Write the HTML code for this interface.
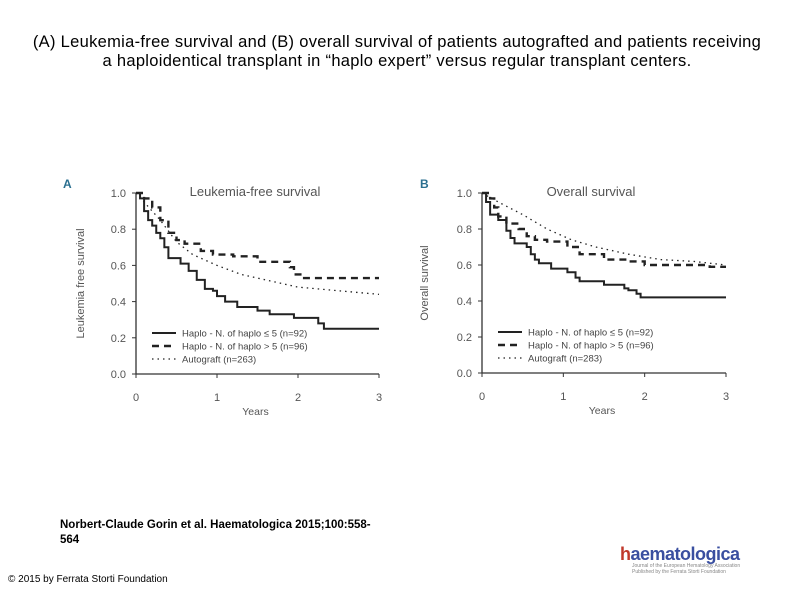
<!DOCTYPE html>
<html><head><meta charset="utf-8"><style>
body{margin:0;width:794px;height:595px;background:#fff;font-family:"Liberation Sans",sans-serif;overflow:hidden;position:relative}
.t{position:absolute;white-space:nowrap}
</style></head><body>
<div class="t" style="left:0;width:794px;top:33px;text-align:center;font-size:16.5px;letter-spacing:0.3px;line-height:19px;color:#000">(A) Leukemia-free survival and (B) overall survival of patients autografted and patients receiving<br>a haploidentical transplant in “haplo expert” versus regular transplant centers.</div>
<svg id="chart" width="794" height="595" style="position:absolute;left:0;top:0"></svg>
<div class="t" style="left:60px;top:518px;font-size:11.5px;font-weight:bold;line-height:15px">Norbert-Claude Gorin et al. Haematologica 2015;100:558-<br>564</div>
<div class="t" style="left:8px;top:574px;font-size:10px">© 2015 by Ferrata Storti Foundation</div>
<div class="t" style="left:620px;top:544px;font-size:18px;font-weight:bold;color:#3a4fa0;letter-spacing:-0.5px"><span style="color:#c0392b">h</span>aematologica</div>
<div class="t" style="left:632px;top:563px;font-size:5px;color:#888;line-height:6px">Journal of the European Hematology Association<br>Published by the Ferrata Storti Foundation</div>
<script>
const ticksY=[0,0.2,0.4,0.6,0.8,1.0];
const ticksX=[0,1,2,3];
const legendLabels=["Haplo - N. of haplo ≤ 5 (n=92)","Haplo - N. of haplo > 5 (n=96)","Autograft (n=263)"];
const legendLabelsB=["Haplo - N. of haplo ≤ 5 (n=92)","Haplo - N. of haplo > 5 (n=96)","Autograft (n=283)"];
const aSolidT=[0,.05,.1,.15,.2,.25,.3,.35,.4,.55,.65,.75,.85,.95,1.0,1.1,1.25,1.5,1.65,1.95,2.25,2.32,3];
const aSolidS=[1,.97,.9,.85,.82,.78,.75,.7,.64,.61,.57,.52,.47,.46,.43,.4,.37,.35,.33,.31,.28,.25,.25];
const aDashT=[0,.1,.2,.3,.4,.5,.6,.8,.95,1.2,1.5,1.9,1.95,2.05,3];
const aDashS=[1,.97,.92,.85,.78,.74,.72,.68,.66,.65,.62,.59,.55,.53,.53];
const aDotT=[0,.1,.3,.5,.7,1.0,1.3,1.6,2,2.5,3];
const aDotS=[1,.95,.85,.73,.66,.6,.55,.52,.48,.46,.44];
const bSolidT=[0,.05,.1,.2,.3,.35,.4,.55,.6,.65,.7,.85,1.05,1.15,1.2,1.5,1.75,1.8,1.9,1.95,3];
const bSolidS=[1,.95,.88,.85,.79,.75,.72,.7,.66,.63,.61,.58,.56,.53,.51,.49,.47,.46,.44,.42,.42];
const bDashT=[0,.1,.15,.2,.3,.45,.55,.65,.8,1.05,1.2,1.5,1.8,2,2.8,3];
const bDashS=[1,.97,.92,.87,.83,.8,.76,.74,.73,.7,.66,.63,.62,.6,.59,.59];
const bDotT=[0,.2,.5,.8,1.1,1.4,1.8,2.2,2.6,3];
const bDotS=[1,.95,.88,.8,.74,.7,.66,.63,.62,.6];
const NS="http://www.w3.org/2000/svg";
const svg=document.getElementById('chart');
function el(tag,attrs,parent){const e=document.createElementNS(NS,tag);for(const k in attrs)e.setAttribute(k,attrs[k]);(parent||svg).appendChild(e);return e;}
function panel(cfg){
  const g=el('g',{});
  
  
  const X=v=>cfg.x0+v/3*(cfg.x1-cfg.x0), Y=v=>cfg.y0-v*(cfg.y0-cfg.y1);
  const ax=el('path',{d:`M${X(0)},${Y(1)}V${Y(0)}H${X(3)}`,stroke:'#333',fill:'none','stroke-width':1.3},g);
  
  
  ticksY.forEach(v=>{el('line',{x1:X(0)-4,x2:X(0),y1:Y(v),y2:Y(v),stroke:'#333'},g);
    const t=el('text',{x:X(0)-10,y:Y(v)+4,'text-anchor':'end','font-size':11,fill:'#555'},g);t.textContent=v.toFixed(1);
    });
  ticksX.forEach(v=>{el('line',{x1:X(v),x2:X(v),y1:Y(0),y2:Y(0)+4,stroke:'#333'},g);
    const t=el('text',{x:X(v),y:Y(0)+27,'text-anchor':'middle','font-size':11,fill:'#555'},g);t.textContent=v;
    });
  const xt=el('text',{x:(X(0)+X(3))/2-2,y:Y(0)+41,'text-anchor':'middle','font-size':10.5,fill:'#555'},g);xt.textContent='Years';
  
  const yt=el('text',{transform:`translate(${cfg.ylx},${(Y(0)+Y(1))/2}) rotate(-90)`,'text-anchor':'middle','font-size':11,fill:'#555'},g);yt.textContent=cfg.ylabel;
  
  const tt=el('text',{x:cfg.tx,y:196,'text-anchor':'middle','font-size':13,fill:'#555'},g);tt.textContent=cfg.title;
  
  const lt=el('text',{x:cfg.lx,y:188,'font-size':12,'font-weight':'bold',fill:'#2a6f8f'},g);lt.textContent=cfg.letter;
  
  const styles=[{w:2,da:''},{w:2.4,da:'7,5'},{w:1.3,da:'1.5,4'}];
  cfg.series.forEach((s,i)=>{
    let d=`M${X(s[0][0])},${Y(s[1][0])}`;
    for(let k=1;k<s[0].length;k++){ if(i<2) d+=`H${X(s[0][k])}V${Y(s[1][k])}`; else d+=`L${X(s[0][k])},${Y(s[1][k])}`;}
    const p=el('path',{d,stroke:'#222',fill:'none','stroke-width':styles[i].w,'stroke-dasharray':styles[i].da},g);
    
    
    const ly=cfg.ly+i*13;
    el('line',{x1:cfg.llx,x2:cfg.llx+24,y1:ly,y2:ly,stroke:'#222','stroke-width':styles[i].w,'stroke-dasharray':styles[i].da},g);
    const lt2=el('text',{x:cfg.llx+30,y:ly+3.5,'font-size':9.5,fill:'#444'},g);lt2.textContent=cfg.labels[i];
    
  });
}
panel({name:'chart-a-leukemia-free',x0:136,x1:379,y0:374,y1:193,ylx:84,ylabel:'Leukemia free survival',title:'Leukemia-free survival',tx:255,letter:'A',lx:63,
  series:[[aSolidT,aSolidS],[aDashT,aDashS],[aDotT,aDotS]],labels:legendLabels,llx:152,ly:333});
panel({name:'chart-b-overall',x0:482,x1:726,y0:373,y1:193,ylx:428,ylabel:'Overall survival',title:'Overall survival',tx:591,letter:'B',lx:420,
  series:[[bSolidT,bSolidS],[bDashT,bDashS],[bDotT,bDotS]],labels:legendLabelsB,llx:498,ly:332});
</script>
</body></html>
